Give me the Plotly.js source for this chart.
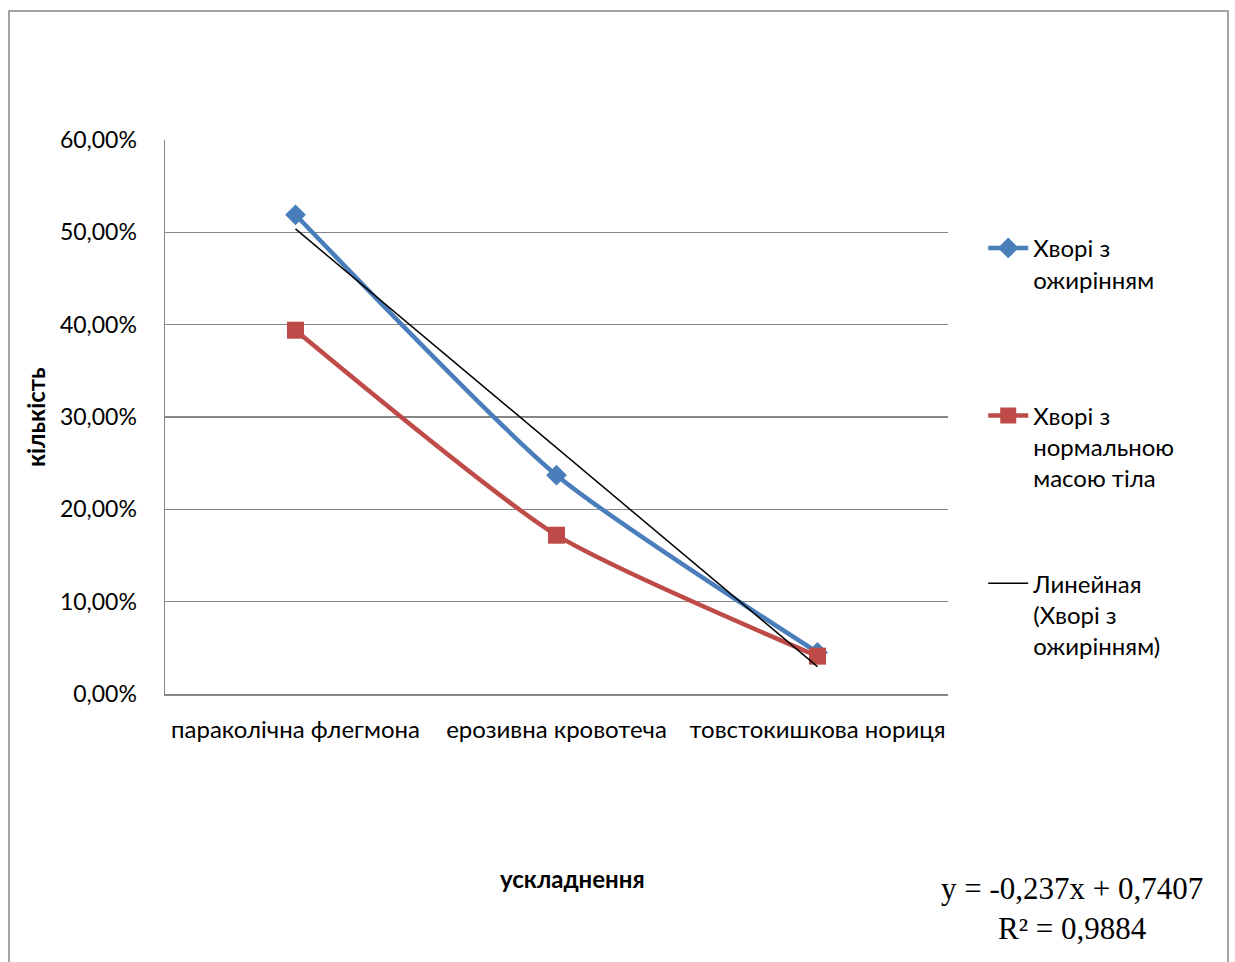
<!DOCTYPE html>
<html>
<head>
<meta charset="utf-8">
<script src="https://cdn.plot.ly/plotly-3.0.1.min.js"></script>
<style>
  html, body { margin: 0; padding: 0; background: #ffffff; }
  #chart { width: 1235px; height: 962px; }
</style>
</head>
<body>
<div id="chart"></div>
<script>
// Complications (x categories)
const complications = ['параколічна флегмона', 'ерозивна кровотеча', 'товстокишкова нориця'];

// Share of patients per complication
const obeseValues = [0.519, 0.237, 0.045];
const normalWeightValues = [0.394, 0.172, 0.041];

// Linear trend of the obese series: y = slope * n + intercept, n = 1..3
const trendSlope = -0.237;
const trendIntercept = 0.7407;
const trendR2 = 0.9884;

const seriesNames = [
  'Хворі з<br>ожирінням<br> ',
  'Хворі з<br>нормальною<br>масою тіла',
  'Линейная<br>(Хворі з<br>ожирінням)'
];

const trendValues = complications.map((_, i) => trendSlope * (i + 1) + trendIntercept);

const fmt = v => String(v).replace('.', ',');
const eqText = 'y = ' + fmt(trendSlope) + 'x + ' + fmt(trendIntercept) + '<br>R² = ' + fmt(trendR2);

const blue = '#4A7EBB';
const red = '#BE4B48';
const grid = '#868686';
const font = 'Lato, "Open Sans", sans-serif';

const traces = [
  {
    x: complications, y: obeseValues, name: seriesNames[0], type: 'scatter', mode: 'lines+markers',
    line: { color: blue, width: 4.5, shape: 'spline', smoothing: 0.6 },
    marker: { symbol: 'diamond', size: 16, color: blue },
    legendgroup: 'a'
  },
  {
    x: complications, y: normalWeightValues, name: seriesNames[1], type: 'scatter', mode: 'lines+markers',
    line: { color: red, width: 4.5, shape: 'spline', smoothing: 0.6 },
    marker: { symbol: 'square', size: 17, color: red },
    legendgroup: 'b'
  },
  {
    x: complications, y: trendValues, name: seriesNames[2], type: 'scatter', mode: 'lines',
    line: { color: '#000000', width: 1.5 },
    legendgroup: 'c'
  }
];

const layout = {
  width: 1235, height: 962,
  margin: { l: 165, r: 287, t: 140, b: 268 },
  paper_bgcolor: '#ffffff', plot_bgcolor: '#ffffff',
  separators: ', ',
  font: { family: font, size: 24, color: '#000000' },
  showlegend: true,
  legend: {
    x: 1.045, xanchor: 'left', y: 0.845, yanchor: 'top',
    font: { family: font, size: 24, color: '#000000' },
    traceorder: 'grouped', tracegroupgap: 71, valign: 'top',
    bgcolor: 'rgba(0,0,0,0)', itemwidth: 40
  },
  xaxis: {
    type: 'category', range: [-0.5, 2.5],
    showgrid: false, zeroline: false,
    showline: true, linecolor: grid, linewidth: 1.5,
    ticks: '', ticklabelstandoff: 14,
    tickfont: { family: font, size: 24, color: '#000000' }
  },
  yaxis: {
    range: [0, 0.6], dtick: 0.1, tickformat: '.2%',
    showgrid: true, gridcolor: grid, gridwidth: 1.5,
    zeroline: false, showline: true, linecolor: grid, linewidth: 1.5,
    ticks: '', ticklabelstandoff: 22,
    tickfont: { family: font, size: 23, color: '#000000' }
  },
  shapes: [
    {
      type: 'rect', xref: 'paper', yref: 'paper', layer: 'below',
      x0: -0.1992, x1: 1.3576, y0: -0.52, y1: 1.2329,
      line: { color: grid, width: 1.5 }, fillcolor: 'rgba(0,0,0,0)'
    }
  ],
  annotations: [
    {
      text: '<b>кількість</b>', xref: 'paper', yref: 'paper',
      x: -0.166, y: 0.5, xanchor: 'center', yanchor: 'middle', textangle: -90, showarrow: false,
      font: { family: font, size: 24, color: '#000000' }
    },
    {
      text: '<b>ускладнення</b>', xref: 'paper', yref: 'paper',
      x: 0.52, y: -0.333, xanchor: 'center', yanchor: 'middle', showarrow: false,
      font: { family: font, size: 24, color: '#000000' }
    },
    {
      text: eqText, xref: 'paper', yref: 'paper',
      x: 1.158, y: -0.388, xanchor: 'center', yanchor: 'middle', align: 'center', showarrow: false,
      font: { family: '"Liberation Serif", "Times New Roman", serif', size: 31, color: '#000000' }
    }
  ]
};

Plotly.newPlot('chart', traces, layout, { displayModeBar: false, staticPlot: true });
</script>
</body>
</html>
